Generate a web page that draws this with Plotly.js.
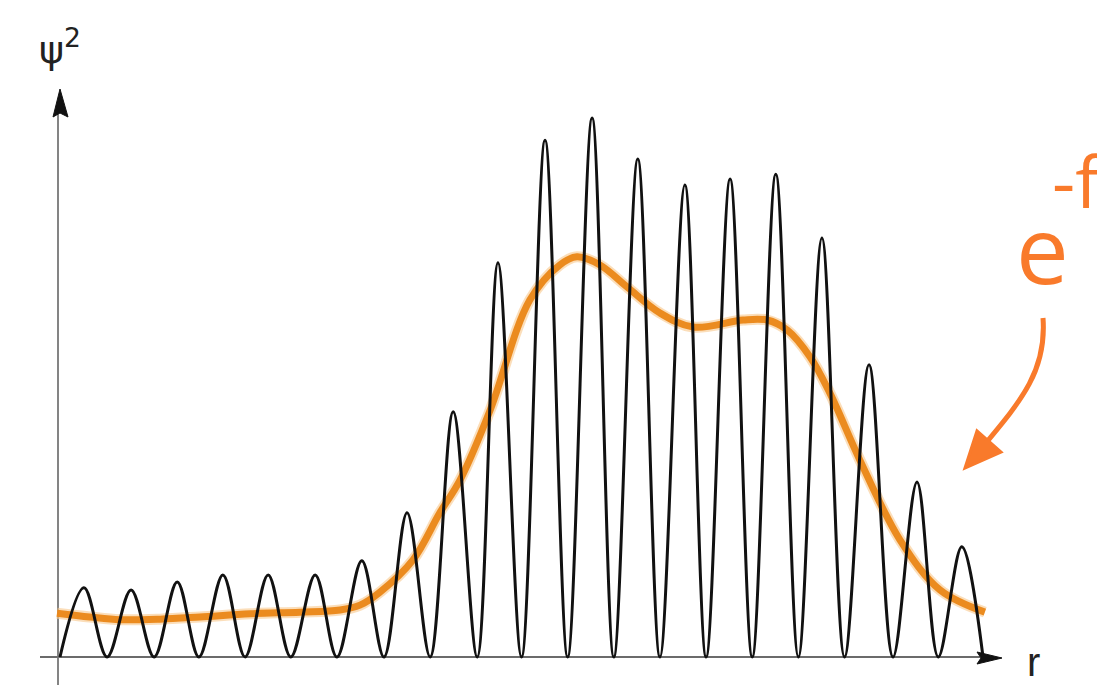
<!DOCTYPE html>
<html>
<head>
<meta charset="utf-8">
<script src="https://cdn.plot.ly/plotly-3.0.1.min.js"></script>
<style>html,body{margin:0;padding:0;background:#fff;}#chart{width:1097px;height:686px;}</style>
</head>
<body>
<div id="chart"></div>
<script>
// ---- data (r in node spacings, psi^2 relative to the tallest peak) ----
const zeroR  = [0, 1.02, 2.04, 3.01, 4.01, 5.0, 6.0, 7.02, 8.02, 9.04, 10.0, 11.0, 12.0, 13.0, 14.0, 15.0, 16.0, 17.0, 18.05, 19.03, 20.0];
const peakR  = [0.52, 1.54, 2.54, 3.53, 4.51, 5.53, 6.54, 7.52, 8.52, 9.49, 10.51, 11.53, 12.52, 13.54, 14.52, 15.51, 16.51, 17.53, 18.57, 19.54];
const peakPsi2 = [0.128, 0.124, 0.139, 0.152, 0.152, 0.152, 0.178, 0.267, 0.454, 0.730, 0.957, 0.998, 0.922, 0.874, 0.885, 0.894, 0.776, 0.541, 0.324, 0.204];

const envR = [-0.065, 0.65, 1.30, 2.17, 3.03, 4.12, 5.20, 6.07, 6.50, 6.93, 7.65, 8.23, 8.67, 9.32, 10.18, 10.83, 11.20, 11.70, 12.29, 13.0, 13.72, 14.80, 15.32, 15.75, 16.25, 16.68, 17.33, 18.20, 19.07, 20.04];
const envY = [0.081, 0.074, 0.069, 0.070, 0.074, 0.080, 0.083, 0.087, 0.096, 0.120, 0.180, 0.267, 0.328, 0.457, 0.661, 0.726, 0.741, 0.726, 0.685, 0.637, 0.611, 0.624, 0.624, 0.606, 0.556, 0.489, 0.365, 0.217, 0.124, 0.083];

const yLabel = 'ψ<sup>2</sup>';
const xLabel = 'r';
const noteMain = 'e';
const noteSup = '-f';

// build the oscillating curve from its zeros and peaks
const psiX = [], psiY = [];
for (let i = 0; i < zeroR.length; i++) {
  psiX.push(zeroR[i]); psiY.push(0);
  if (i < peakR.length) { psiX.push(peakR[i]); psiY.push(peakPsi2[i]); }
}

// layout geometry
const W = 1097, H = 686;
const mL = 40, mR = 87, mT = 88, mB = 1;
const pw = W - mL - mR, ph = H - mT - mB;
const xRange = [-0.4334, 20.585];
const yRange = [-0.0519, 1.0537];
const px = v => (v - mL) / pw;
const py = v => (H - mB - v) / ph;
const P = (x, y) => px(x).toFixed(5) + ',' + py(y).toFixed(5);
const dx = v => xRange[0] + (v - mL) / pw * (xRange[1] - xRange[0]);
const dy = v => yRange[0] + (H - mB - v) / ph * (yRange[1] - yRange[0]);
const D = (x, y) => dx(x).toFixed(4) + ',' + dy(y).toFixed(4);

const axisCol = '#3a3a3a';
const orange = '#F97A2B';

const traces = [
  {x: envR, y: envY, mode: 'lines', line: {color: 'rgba(248,200,140,0.6)', width: 11, shape: 'spline', smoothing: 1}, hoverinfo: 'skip'},
  {x: envR, y: envY, mode: 'lines', line: {color: 'rgba(234,134,22,0.95)', width: 7, shape: 'spline', smoothing: 1}, hoverinfo: 'skip'},
  {x: psiX, y: psiY, mode: 'lines', line: {color: '#111', width: 3, shape: 'spline', smoothing: 1}, hoverinfo: 'skip'}
];

const shapes = [
  {type: 'line', xref: 'x', yref: 'y', x0: dx(40), x1: dx(980), y0: 0, y1: 0, line: {color: axisCol, width: 1.6}, layer: 'below'},
  {type: 'path', xref: 'x', yref: 'y', path: 'M' + D(1002, 658) + ' L' + D(977, 652) + ' L' + D(981, 658) + ' L' + D(977, 664) + ' Z', fillcolor: '#111', line: {color: '#111', width: 1}},
  {type: 'line', xref: 'x', yref: 'y', x0: dx(58), x1: dx(58), y0: dy(685), y1: dy(112), line: {color: '#777', width: 1.8}, layer: 'below'},
  {type: 'path', xref: 'x', yref: 'y', path: 'M' + D(60, 89) + ' L' + D(53, 117) + ' L' + D(60, 113) + ' L' + D(68, 117) + ' Z', fillcolor: '#111', line: {color: '#111', width: 1}},
  {type: 'path', xref: 'paper', yref: 'paper', path: 'M' + P(1043, 318) + ' C' + P(1047, 372) + ' ' + P(1020, 402) + ' ' + P(980, 450), line: {color: orange, width: 5}},
  {type: 'path', xref: 'paper', yref: 'paper', path: 'M' + P(965, 468) + ' L' + P(977, 431) + ' L' + P(1001, 452) + ' Z', fillcolor: orange, line: {color: orange, width: 3}}
];

const annotations = [
  {xref: 'paper', yref: 'paper', x: px(37), y: py(47), xanchor: 'left', yanchor: 'middle', text: yLabel, showarrow: false, font: {family: 'DejaVu Sans, sans-serif', size: 38, color: '#222'}},
  {xref: 'paper', yref: 'paper', x: px(1033), y: py(662), xanchor: 'center', yanchor: 'middle', text: xLabel, showarrow: false, font: {family: 'Liberation Sans, Arial, sans-serif', size: 40, color: '#222'}},
  {xref: 'paper', yref: 'paper', x: px(1014), y: py(248), xanchor: 'left', yanchor: 'middle', text: noteMain, showarrow: false, font: {family: 'Open Sans, sans-serif', size: 94, color: orange}},
  {xref: 'paper', yref: 'paper', x: px(1050), y: py(180), xanchor: 'left', yanchor: 'middle', text: noteSup, showarrow: false, font: {family: 'Open Sans, sans-serif', size: 72, color: orange}}
];

const layout = {
  width: W, height: H,
  margin: {l: mL, r: mR, t: mT, b: mB, pad: 0},
  paper_bgcolor: '#fff', plot_bgcolor: 'rgba(0,0,0,0)',
  showlegend: false, hovermode: false,
  xaxis: {range: xRange, showgrid: false, zeroline: false, showline: false, showticklabels: false, ticks: '', fixedrange: true},
  yaxis: {range: yRange, showgrid: false, zeroline: false, showline: false, showticklabels: false, ticks: '', fixedrange: true},
  shapes: shapes,
  annotations: annotations
};

Plotly.newPlot('chart', traces, layout, {displayModeBar: false, staticPlot: true});
</script>
</body>
</html>
